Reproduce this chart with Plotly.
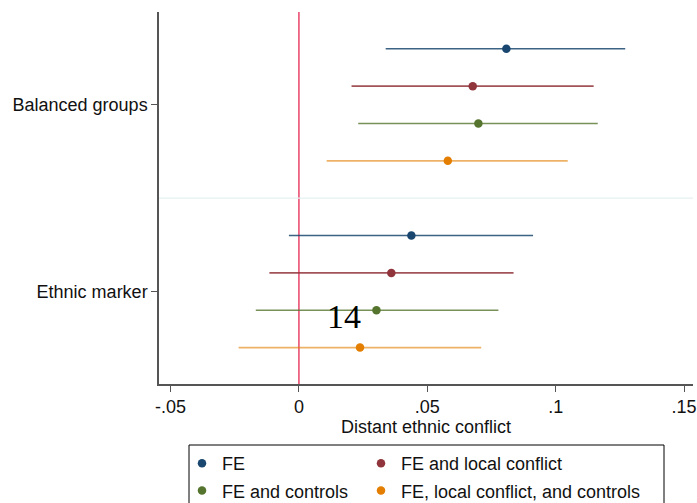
import plotly.graph_objects as go

categories = ["Balanced groups", "Ethnic marker"]
series_names = ["FE", "FE and local conflict", "FE and controls", "FE, local conflict, and controls"]
# coefficient estimates per series, per category
coef = {
    "FE": [0.0808, 0.0438],
    "FE and local conflict": [0.0677, 0.0360],
    "FE and controls": [0.0699, 0.0302],
    "FE, local conflict, and controls": [0.0580, 0.0238],
}
ci_low = {
    "FE": [0.0338, -0.0039],
    "FE and local conflict": [0.0205, -0.0115],
    "FE and controls": [0.0231, -0.0168],
    "FE, local conflict, and controls": [0.0108, -0.0235],
}
ci_high = {
    "FE": [0.1271, 0.0912],
    "FE and local conflict": [0.1148, 0.0836],
    "FE and controls": [0.1164, 0.0777],
    "FE, local conflict, and controls": [0.1047, 0.0710],
}
offsets = [-0.3, -0.1, 0.1, 0.3]
x_ticks = [-0.05, 0, 0.05, 0.1, 0.15]
x_tick_labels = ["-.05", "0", ".05", ".1", ".15"]

colors = ["#1a476f", "#90353b", "#55752f", "#e37e00"]
ci_colors = ["rgba(26,71,111,0.85)", "rgba(144,53,59,0.85)", "rgba(85,117,47,0.8)", "rgba(227,126,0,0.6)"]
legend_ids = ["legend", "legend2", "legend", "legend2"]

FONT = "Liberation Sans, Arial, sans-serif"
FS = 18

fig = go.Figure()
for i, name in enumerate(series_names):
    ys = [k + 1 + offsets[i] for k in range(len(categories))]
    xs = coef[name]
    fig.add_trace(go.Scatter(
        x=xs, y=ys, mode="markers", name=name, legend=legend_ids[i], legendgroup=name,
        marker=dict(color=colors[i], size=8.5, symbol="circle"),
        error_x=dict(type="data", symmetric=False,
                     array=[h - c for h, c in zip(ci_high[name], xs)],
                     arrayminus=[c - l for c, l in zip(xs, ci_low[name])],
                     color=ci_colors[i], thickness=1.6, width=0),
    ))

fig.add_vline(x=0, line=dict(color="#e8436a", width=1.5), layer="below")
fig.add_shape(type="line", xref="paper", yref="y", x0=0, x1=1, y0=1.5, y1=1.5,
              line=dict(color="#e6eff0", width=1.2), layer="below")

PL, PT, PR, PB = 159, 12, 693, 384  # plot area in screen px
W, H = 697, 503
PW, PH = float(PR - PL), float(PB - PT)

fig.add_shape(type="rect", xref="paper", yref="paper",
              x0=(189 - PL) / PW, x1=(664 - PL) / PW,
              y0=(PB - 445) / PH, y1=(PB - 520) / PH,
              line=dict(color="black", width=1), fillcolor="rgba(0,0,0,0)")

fig.add_annotation(text="14", x=0.0175, y=2.135, xref="x", yref="y", showarrow=False,
                   font=dict(family="Liberation Serif, Times New Roman, serif", size=34, color="black"))

leg_common = dict(orientation="v", yanchor="top", y=(PB - 445) / PH, xanchor="left",
                  bgcolor="rgba(0,0,0,0)", borderwidth=0, tracegroupgap=1,
                  font=dict(family=FONT, size=FS, color="#111111"), itemwidth=30)

fig.update_layout(
    width=W, height=H,
    margin=dict(l=PL, r=W - PR, t=PT, b=H - PB, autoexpand=False),
    plot_bgcolor="white", paper_bgcolor="white",
    font=dict(family=FONT, size=FS, color="#111111"),
    showlegend=True,
    legend=dict(x=(182 - PL) / PW, **leg_common),
    legend2=dict(x=(361 - PL) / PW, **leg_common),
    xaxis=dict(range=[-0.0545, 0.1535], tickvals=x_ticks, ticktext=x_tick_labels,
               showgrid=False, zeroline=False, showline=True, linecolor="#555555", linewidth=1.5,
               ticks="outside", ticklen=6, tickcolor="#555555", tickwidth=1.2, automargin=False,
               title=dict(text="Distant ethnic conflict", standoff=2,
                          font=dict(family=FONT, size=FS, color="#111111"))),
    yaxis=dict(range=[2.495, 0.503], tickvals=[1, 2], ticktext=categories, automargin=False,
               showgrid=False, zeroline=False, showline=True, linecolor="#555555", linewidth=1.5,
               ticks="outside", ticklen=6, tickcolor="#555555", tickwidth=1.2),
)

fig.write_html("out.html", config={"displayModeBar": False},
               post_script="document.body.style.margin='0';document.body.style.overflow='hidden';")
